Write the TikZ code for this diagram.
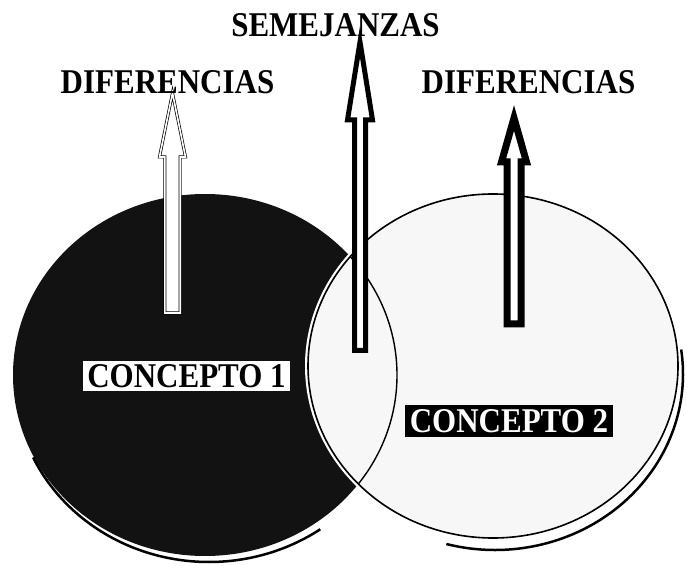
\documentclass[tikz,border=0pt]{standalone}
\usepackage{fontspec}
\setmainfont{Liberation Serif}
\usepackage{xcolor}
\usetikzlibrary{calc, positioning}
\tikzset{
    label text/.style={font=\fontsize{31}{31}\selectfont\bfseries, inner sep=0pt, anchor=base},
    concept box/.style={font=\fontsize{31}{31}\selectfont\bfseries, inner sep=0pt, minimum height=29pt},
    thin arrow/.style={draw=black, fill=white, line width=0.7pt, double=white, double distance=1.6pt},
    thick arrow/.style={draw=black, fill=white, line join=miter},
    rim shadow/.style={line width=2.5pt}
}
\newcommand{\tallword}[1]{\scalebox{1}[1.12]{#1}}
\newcommand{\blockarrow}[7]{
    \coordinate (#1-foot) at (#3);
    \coordinate (#1-tip) at ($(#1-foot) + (0, #5)$);
    \draw[#2]
    ($(#1-foot) + (-#6, 0)$) -- ($(#1-foot) + (#6, 0)$) -- ($(#1-foot) + (#6, #4)$) -- ($(#1-foot) + (#7, #4)$) -- (#1-tip) -- ($(#1-foot) + (-#7, #4)$) -- ($(#1-foot) + (-#6, #4)$) -- cycle;
}

\begin{document}
\begin{tikzpicture}[x=1pt, y=1pt]
    \useasboundingbox (0, 0) rectangle (687, 565);
    \coordinate (c1) at (205, 190);
    \coordinate (c2) at (493, 199);
    \fill[black!93] (c1) ellipse[x radius=192, y radius=181];
    \draw[white, line width=6pt] (c2) ellipse[x radius=185, y radius=172];
    \fill[black!3] (c2) ellipse[x radius=185, y radius=172];
    \draw[line width=1.6pt] (c2) ellipse[x radius=185, y radius=172];
    \begin{scope}
        \clip (c2) ellipse[x radius=185, y radius=172];
        \draw[line width=1.4pt] (c1) ellipse[x radius=192, y radius=181];
    \end{scope}
    \draw[rim shadow] ($(c1) + (4, -6) + (205:194 and 181)$) arc[start angle=205, end angle=305, x radius=194, y radius=181];
    \draw[rim shadow] ($(c2) + (2, -8) + (-105:188 and 176)$) arc[start angle=-105, end angle=8, x radius=188, y radius=176];
    \blockarrow{dif1}{thin arrow}{172.5, 252}{156}{220}{7.7}{13}
    \blockarrow{sem}{thick arrow, line width=5pt}{360, 214.5}{230.5}{308.5}{5.5}{12.5}
    \blockarrow{dif2}{thick arrow, line width=7pt}{514, 241}{162}{206}{7}{12.5}
    \node[label text] (sem) at (335.5, 528) {\tallword{SEMEJANZAS}};
    \node[label text] (dif1) at (167.5, 471) {\tallword{DIFERENCIAS}};
    \node[label text] (dif2) at (528.5, 471) {\tallword{DIFERENCIAS}};
    \node[concept box, fill=white, minimum width=207pt] (con1) at (186.5, 189) {\tallword{CONCEPTO 1}};
    \node[concept box, fill=black, text=white, minimum width=208pt, minimum height=32pt] (con2) at (509, 144) {\tallword{CONCEPTO 2}};
\end{tikzpicture}
\end{document}
